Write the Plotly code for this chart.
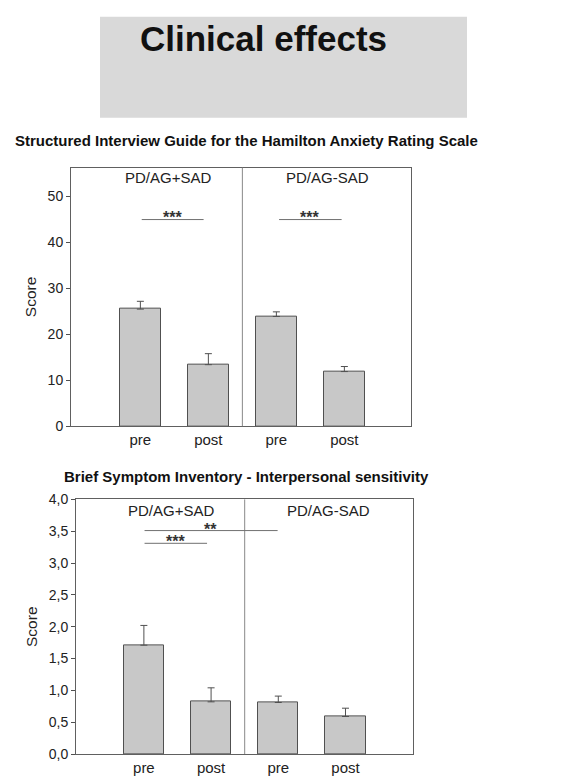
import plotly.graph_objects as go

# ---- data ----
categories = ["pre", "post", "pre", "post"]
groups = ["PD/AG+SAD", "PD/AG-SAD"]

hama_values = [25.5, 13.4, 23.9, 11.9]
hama_err = [1.7, 2.4, 1.0, 1.1]

bsi_values = [1.71, 0.82, 0.81, 0.59]
bsi_err = [0.31, 0.22, 0.10, 0.13]

# significance brackets: (x start, x end, y, label, label x)
hama_sig = [(0.02, 0.93, 45.0, "***", 0.47), (2.04, 2.96, 45.0, "***", 2.49)]
bsi_sig = [(0.01, 0.94, 3.31, "***", 0.47), (0.01, 1.99, 3.51, "**", 0.99)]

main_title = "Clinical effects"
hama_title = "Structured Interview Guide for the Hamilton Anxiety Rating Scale"
bsi_title = "Brief Symptom Inventory - Interpersonal sensitivity"

W, H = 566, 778
FONT = "Liberation Sans, Arial, sans-serif"
TXT = "#222222"

def px(x):
    return x / W

def py(y):
    return 1 - y / H

xpos = list(range(len(categories)))

fig = go.Figure()

bar_style = dict(
    width=0.6,
    marker=dict(color="#c8c8c8", line=dict(color="#505050", width=1)),
    showlegend=False,
    hoverinfo="skip",
)

fig.add_trace(go.Bar(
    x=xpos, y=hama_values, xaxis="x", yaxis="y",
    error_y=dict(type="data", array=hama_err, arrayminus=[0]*4, symmetric=False,
                 color="#505050", thickness=1, width=3.5),
    **bar_style))
fig.add_trace(go.Bar(
    x=xpos, y=bsi_values, xaxis="x2", yaxis="y2",
    error_y=dict(type="data", array=bsi_err, arrayminus=[0]*4, symmetric=False,
                 color="#505050", thickness=1, width=3.5),
    **bar_style))

axis_common = dict(showline=True, linecolor="#606060", linewidth=1, mirror=True,
                   showgrid=False, zeroline=False)

fig.update_layout(
    width=W, height=H,
    margin=dict(l=0, r=0, t=0, b=0),
    paper_bgcolor="white", plot_bgcolor="white",
    separators=",.",
    font=dict(family=FONT, color=TXT),
    bargap=0,
    xaxis=dict(domain=[px(71), px(411)], range=[-1.02, 3.98], anchor="y",
               tickvals=xpos, ticktext=categories, ticks="",
               tickfont=dict(size=15, color=TXT), **axis_common),
    yaxis=dict(domain=[py(427), py(163)], range=[0, 56.3], anchor="x",
               dtick=10, ticks="outside", ticklen=4, tickcolor="#505050",
               tickfont=dict(size=14, color=TXT),
               title=dict(text="Score", font=dict(size=15.5, color=TXT), standoff=7),
               **axis_common),
    xaxis2=dict(domain=[px(76), px(412.7)], range=[-1.01, 4.0], anchor="y2",
                tickvals=xpos, ticktext=categories, ticks="",
                tickfont=dict(size=15, color=TXT), **axis_common),
    yaxis2=dict(domain=[py(761.7), py(501.7)], range=[0, 4.0], anchor="x2",
                tickvals=[0, 0.5, 1, 1.5, 2, 2.5, 3, 3.5, 4], tickformat=".1f",
                ticks="outside", ticklen=4, tickcolor="#505050",
                tickfont=dict(size=14, color=TXT),
                title=dict(text="Score", font=dict(size=15.5, color=TXT), standoff=7),
                **axis_common),
)

shapes = []
annotations = []

# header gray box
shapes.append(dict(type="rect", xref="paper", yref="paper",
                   x0=px(100), x1=px(467), y0=py(112), y1=py(9),
                   fillcolor="#d9d9d9", line=dict(width=0), layer="below"))
annotations.append(dict(text="<b>%s</b>" % main_title, xref="paper", yref="paper",
                        x=px(263), y=py(31), showarrow=False, xanchor="center", yanchor="middle",
                        font=dict(size=35, color="#111111", family=FONT)))

# panel titles
annotations.append(dict(text="<b>%s</b>" % hama_title, xref="paper", yref="paper",
                        x=px(246), y=py(135), showarrow=False, xanchor="center", yanchor="middle",
                        font=dict(size=15, color="#111111", family=FONT)))
annotations.append(dict(text="<b>%s</b>" % bsi_title, xref="paper", yref="paper",
                        x=px(246), y=py(478), showarrow=False, xanchor="center", yanchor="middle",
                        font=dict(size=15, color="#111111", family=FONT)))

for xa, ya, sig, gy in (("x", "y", hama_sig, 0.963), ("x2", "y2", bsi_sig, 0.955)):
    # divider between groups
    shapes.append(dict(type="line", xref=xa, yref=ya + " domain", x0=1.5, x1=1.5, y0=0, y1=1,
                       line=dict(color="#888888", width=1)))
    # group labels
    for gi, g in enumerate(groups):
        annotations.append(dict(text=g, xref=xa, yref=ya + " domain",
                                x=0.4 + 2.35 * gi, y=gy, showarrow=False,
                                xanchor="center", yanchor="middle",
                                font=dict(size=15, color=TXT, family=FONT)))
    # significance lines
    for x0, x1, yv, lab, lx in sig:
        shapes.append(dict(type="line", xref=xa, yref=ya, x0=x0, x1=x1, y0=yv, y1=yv,
                           line=dict(color="#707070", width=1)))
        annotations.append(dict(text="<b>%s</b>" % lab, xref=xa, yref=ya, x=lx,
                                y=yv, showarrow=False, xanchor="center", yanchor="middle",
                                yshift=2 if lab == "***" else 1,
                                font=dict(size=16, color="#333333", family=FONT)))

fig.update_layout(shapes=shapes, annotations=annotations)

fig.write_html("out.html", config={"displayModeBar": False},
               post_script="document.body.style.margin='0px';")
